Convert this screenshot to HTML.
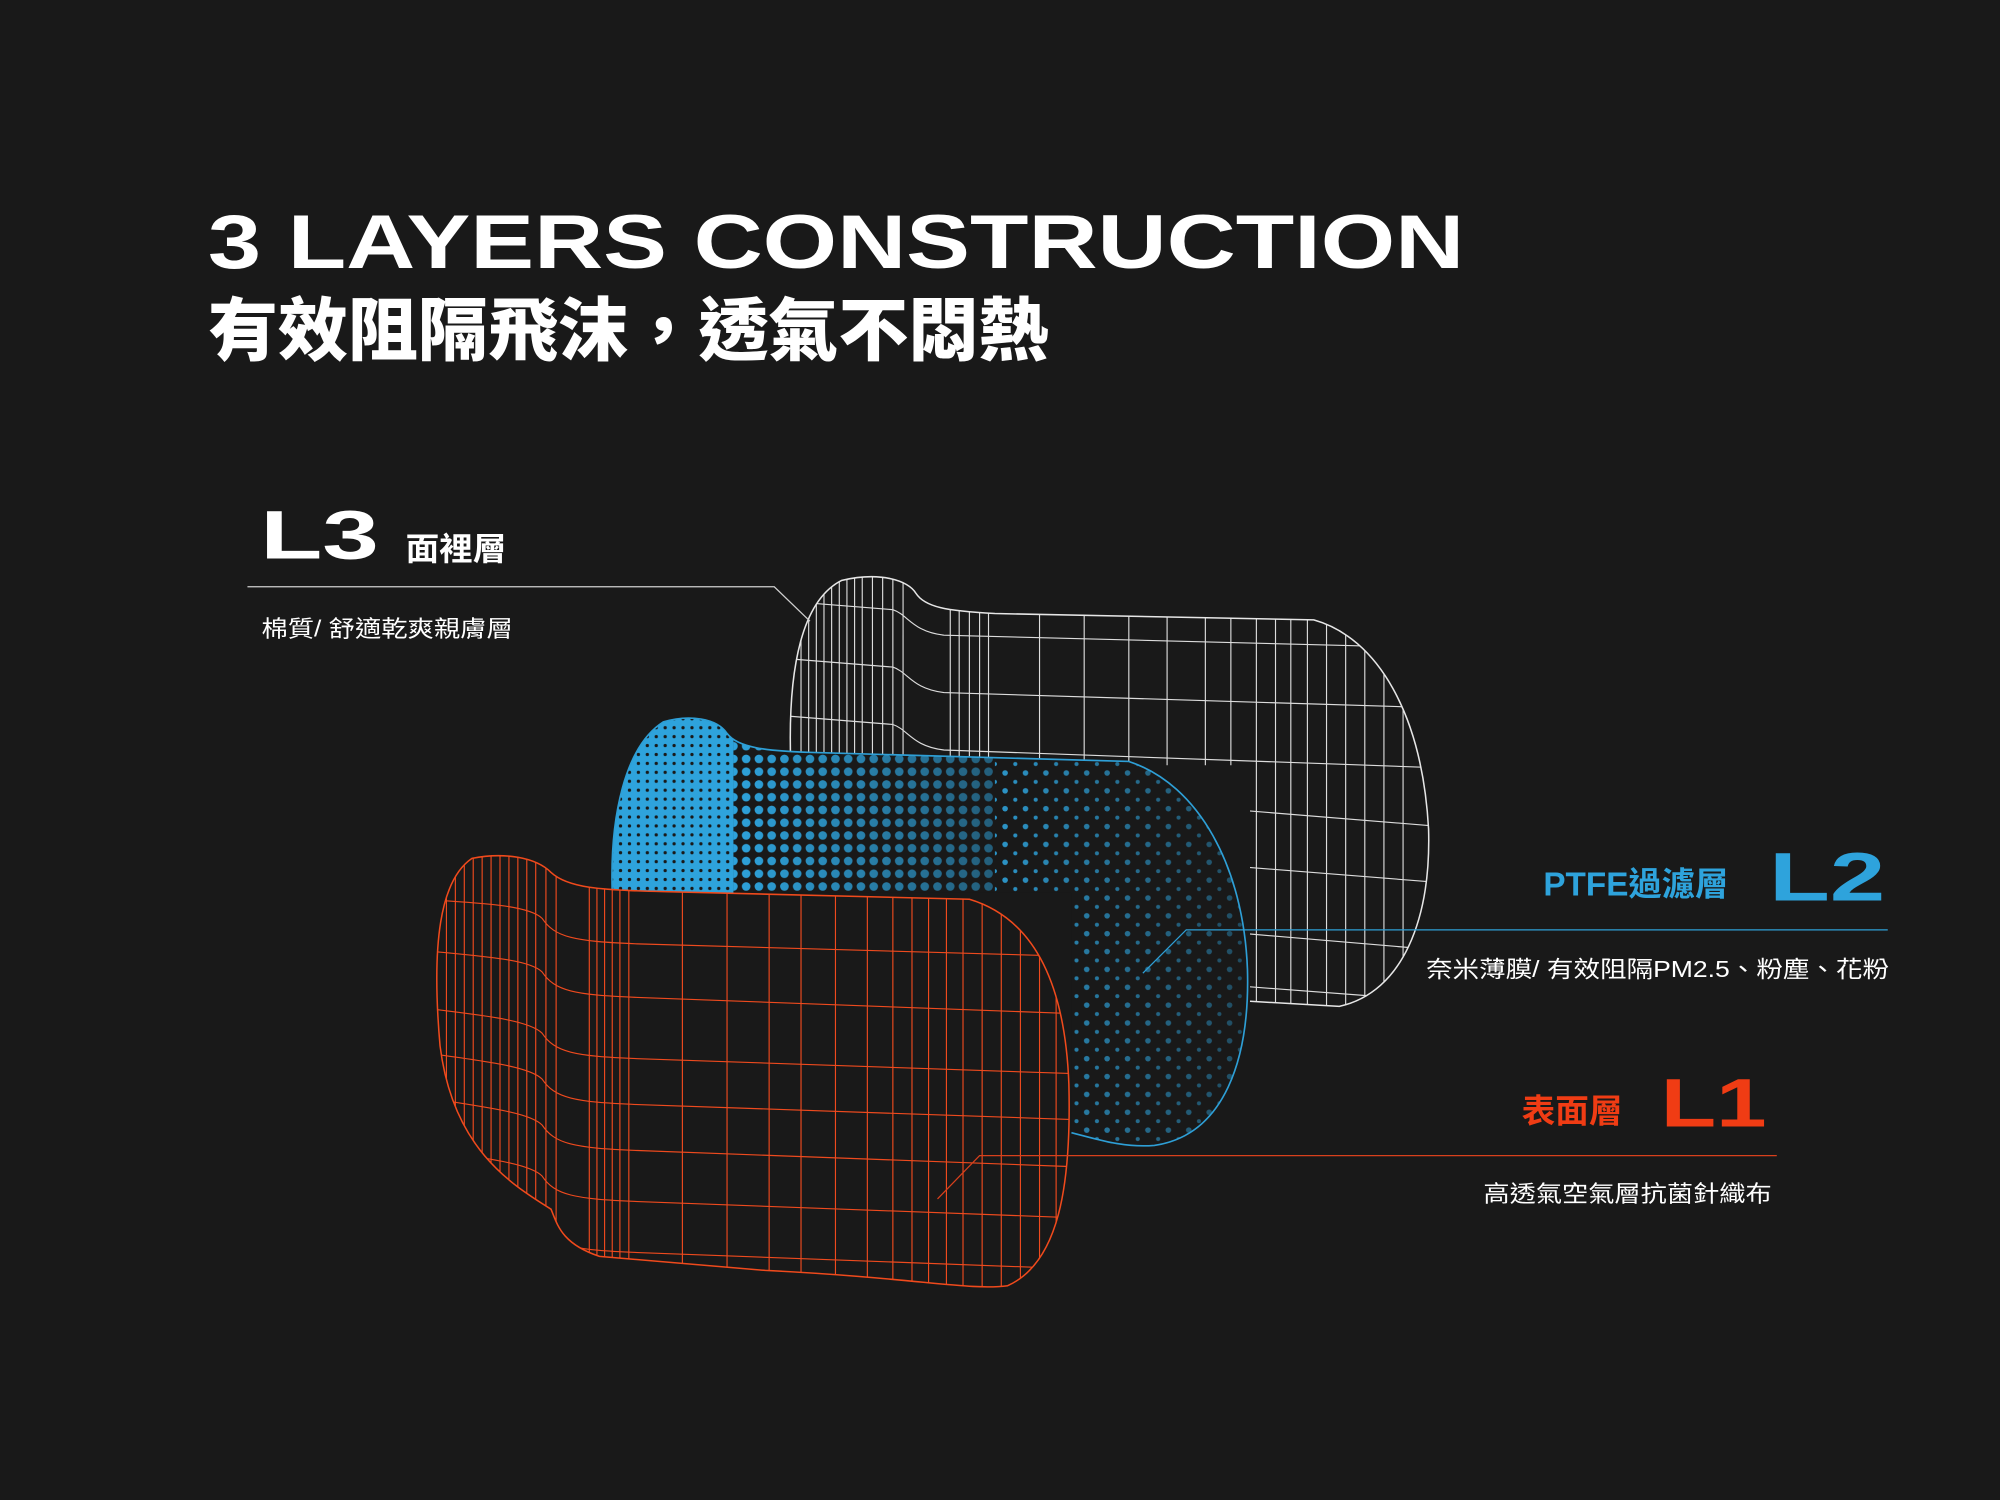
<!DOCTYPE html>
<html><head><meta charset="utf-8"><style>
html,body{margin:0;padding:0;background:#191919;}
svg{display:block;}
</style></head><body>
<svg width="2000" height="1500" viewBox="0 0 1568 1176" xmlns="http://www.w3.org/2000/svg">
<defs>
<clipPath id="cw"><path d="M620,600 C617,520 630,470 660,455 C690,448 712,455 718,465 C725,476 742,479 780,481 L1030,486 C1080,500 1115,560 1120,650 C1122,720 1100,778 1050,789 L980,785 L980,600 Z"/></clipPath>
<clipPath id="cb"><path d="M480,700 C478,640 490,585 520,566 C540,560 562,563 570,575 C578,586 600,589 640,590 L885,597 C940,615 975,680 978,760 C980,830 960,890 905,898 C880,900 860,893 840,888 L840,700 Z"/></clipPath>
<clipPath id="cr"><path d="M345,820 C338,740 345,690 370,673 C395,668 420,672 432,684 C445,696 470,698 520,699 L760,705 C810,720 835,770 838,850 C840,930 830,990 790,1008 C760,1012 720,1002 600,996 L470,985 C440,975 437,960 432,948 C400,928 355,900 345,820 Z"/></clipPath>
<pattern id="pd" width="10" height="10" patternUnits="userSpaceOnUse"><circle cx="5" cy="5" r="3.4" fill="#2ea3dc"/></pattern>
<pattern id="pd2" width="16" height="14" patternUnits="userSpaceOnUse"><circle cx="4" cy="4" r="2.2" fill="#2ea3dc"/><circle cx="12" cy="11" r="1.6" fill="#2ea3dc"/></pattern>
<pattern id="pdk" width="7" height="7" patternUnits="userSpaceOnUse"><rect width="7" height="7" fill="#2ea3dc"/><circle cx="3.5" cy="3.5" r="1.3" fill="#191919"/></pattern>
<linearGradient id="gf" x1="575" x2="780" y1="0" y2="0" gradientUnits="userSpaceOnUse"><stop offset="0" stop-color="#fff" stop-opacity="1"/><stop offset="1" stop-color="#fff" stop-opacity="0.5"/></linearGradient>
<linearGradient id="gf2" x1="780" x2="980" y1="0" y2="0" gradientUnits="userSpaceOnUse"><stop offset="0" stop-color="#fff" stop-opacity="0.9"/><stop offset="1" stop-color="#fff" stop-opacity="0.35"/></linearGradient>
<mask id="mf"><rect x="0" y="0" width="1568" height="1176" fill="url(#gf)"/></mask>
<mask id="mf2"><rect x="0" y="0" width="1568" height="1176" fill="url(#gf2)"/></mask>
</defs>
<rect width="1568" height="1176" fill="#191919"/>

<text x="163" y="210" font-family="Liberation Sans, sans-serif" font-weight="bold" font-size="60" fill="#fff" textLength="985" lengthAdjust="spacingAndGlyphs">3 LAYERS CONSTRUCTION</text>
<text x="163" y="278" font-family="Liberation Sans, Noto Sans CJK TC, sans-serif" font-weight="900" font-size="54" fill="#fff" textLength="659" lengthAdjust="spacingAndGlyphs">有效阻隔飛沫，透氣不悶熱</text>

<g clip-path="url(#cw)" stroke="#dcdcdc" stroke-width="0.9" fill="none">
<path d="M628,440V800M634,440V800M640,440V800M646,440V800M652,440V800M658,440V800M664,440V800M670,440V800M676,440V800M684,440V800M692,440V800M700,440V800M708,440V800M745,440V800M752,440V800M760,440V800M768,440V800M775,440V800M815,440V800M850,440V800M885,440V800M915,440V800M945,440V800M965,440V800M985,440V800M1000,440V800M1012,440V800M1025,440V800M1040,440V800M1055,440V800M1070,440V800M1085,440V800M1100,440V800"/>
<path d="M600,470 L700,478 C712,482 715,495 740,498 L1130,508"/>
<path d="M600,515 L700,523 C712,527 715,540 740,543 L1130,555"/>
<path d="M600,560 L700,568 C712,572 715,585 740,588 L1130,602"/>
<path d="M600,605 L1130,648"/>
<path d="M600,650 L1130,692"/>
<path d="M600,700 L1130,745"/>
<path d="M600,745 L1130,785"/>
</g>
<path d="M620,600 C617,520 630,470 660,455 C690,448 712,455 718,465 C725,476 742,479 780,481 L1030,486 C1080,500 1115,560 1120,650 C1122,720 1100,778 1050,789 L980,785" fill="none" stroke="#e6e6e6" stroke-width="1.2"/>

<path d="M480,700 C478,640 490,585 520,566 C540,560 562,563 570,575 C578,586 600,589 640,590 L885,597 C940,615 975,680 978,760 C980,830 960,890 905,898 C880,900 860,893 840,888 L840,700 Z" fill="#191919"/>
<g clip-path="url(#cb)">
<rect x="470" y="550" width="105" height="160" fill="url(#pdk)"/>
<rect x="575" y="550" width="205" height="360" fill="url(#pd)" mask="url(#mf)"/>
<rect x="780" y="550" width="215" height="360" fill="url(#pd2)" mask="url(#mf2)"/>
</g>
<path d="M480,700 C478,640 490,585 520,566 C540,560 562,563 570,575 C578,586 600,589 640,590 L885,597 C940,615 975,680 978,760 C980,830 960,890 905,898 C880,900 860,893 840,888" fill="none" stroke="#2e9fd6" stroke-width="1.3"/>

<path d="M345,820 C338,740 345,690 370,673 C395,668 420,672 432,684 C445,696 470,698 520,699 L760,705 C810,720 835,770 838,850 C840,930 830,990 790,1008 C760,1012 720,1002 600,996 L470,985 C440,975 437,960 432,948 C400,928 355,900 345,820 Z" fill="#191919"/>
<g clip-path="url(#cr)" stroke="#ee4a1e" stroke-width="0.9" fill="none">
<path d="M350,660V1020M357,660V1020M364,660V1020M371,660V1020M378,660V1020M385,660V1020M392,660V1020M399,660V1020M406,660V1020M413,660V1020M420,660V1020M428,660V1020M436,660V1020M462,660V1020M468,660V1020M474,660V1020M480,660V1020M486,660V1020M493,660V1020M535,660V1020M570,660V1020M603,660V1020M628,660V1020M655,660V1020M680,660V1020M700,660V1020M715,660V1020M728,660V1020M742,660V1020M755,660V1020M770,660V1020M785,660V1020M800,660V1020M815,660V1020M828,660V1020"/>
<path d="M330,705 C380,708 415,710 425,720 C435,735 450,738 500,740 L850,750"/>
<path d="M330,745 C380,750 415,752 425,762 C435,777 450,780 500,782 L850,795"/>
<path d="M330,790 C380,796 415,800 425,810 C435,825 450,828 500,830 L850,842"/>
<path d="M330,825 C380,832 415,836 425,846 C435,861 450,864 500,866 L850,878"/>
<path d="M330,860 C380,868 415,872 425,882 C435,897 450,900 500,902 L850,915"/>
<path d="M330,900 C380,908 415,912 425,922 C435,937 450,940 500,942 L850,955"/>
<path d="M330,940 C380,948 415,952 425,962 C435,977 450,980 500,982 L850,995"/>
</g>
<path d="M345,820 C338,740 345,690 370,673 C395,668 420,672 432,684 C445,696 470,698 520,699 L760,705 C810,720 835,770 838,850 C840,930 830,990 790,1008 C760,1012 720,1002 600,996 L470,985 C440,975 437,960 432,948 C400,928 355,900 345,820 Z" fill="none" stroke="#f04a1c" stroke-width="1.2"/>

<text x="204" y="438" font-family="Liberation Sans, sans-serif" font-weight="bold" font-size="54" fill="#fff" textLength="93" lengthAdjust="spacingAndGlyphs">L3</text>
<text x="318" y="439" font-family="Liberation Sans, Noto Sans CJK TC, sans-serif" font-weight="bold" font-size="25" fill="#fff" textLength="79" lengthAdjust="spacingAndGlyphs">面裡層</text>
<polyline points="194,460 607,460 635,487" fill="none" stroke="#cfcfcf" stroke-width="1"/>
<text x="205" y="499" font-family="Liberation Sans, Noto Sans CJK TC, sans-serif" font-size="18" fill="#fff" textLength="197" lengthAdjust="spacingAndGlyphs">棉質/ 舒適乾爽親膚層</text>

<text x="1210" y="702" font-family="Liberation Sans, Noto Sans CJK TC, sans-serif" font-weight="bold" font-size="26" fill="#2ea3dc" textLength="145" lengthAdjust="spacingAndGlyphs">PTFE過濾層</text>
<text x="1387" y="706" font-family="Liberation Sans, sans-serif" font-weight="bold" font-size="54" fill="#2ea3dc" textLength="91" lengthAdjust="spacingAndGlyphs">L2</text>
<polyline points="1480,729 930,729 896,763" fill="none" stroke="#2e9fd6" stroke-width="1"/>
<text x="1118" y="766" font-family="Liberation Sans, Noto Sans CJK TC, sans-serif" font-size="18" fill="#fff" textLength="363" lengthAdjust="spacingAndGlyphs">奈米薄膜/ 有效阻隔PM2.5、粉塵、花粉</text>

<text x="1193" y="880" font-family="Liberation Sans, Noto Sans CJK TC, sans-serif" font-weight="bold" font-size="26" fill="#f03c14" textLength="79" lengthAdjust="spacingAndGlyphs">表面層</text>
<text x="1302" y="883" font-family="Liberation Sans, sans-serif" font-weight="bold" font-size="54" fill="#f03c14" textLength="83" lengthAdjust="spacingAndGlyphs">L1</text>
<polyline points="1393,906 768,906 735,940" fill="none" stroke="#d8401c" stroke-width="1"/>
<text x="1163" y="942" font-family="Liberation Sans, Noto Sans CJK TC, sans-serif" font-size="18" fill="#fff" textLength="226" lengthAdjust="spacingAndGlyphs">高透氣空氣層抗菌針織布</text>
</svg>
</body></html>
